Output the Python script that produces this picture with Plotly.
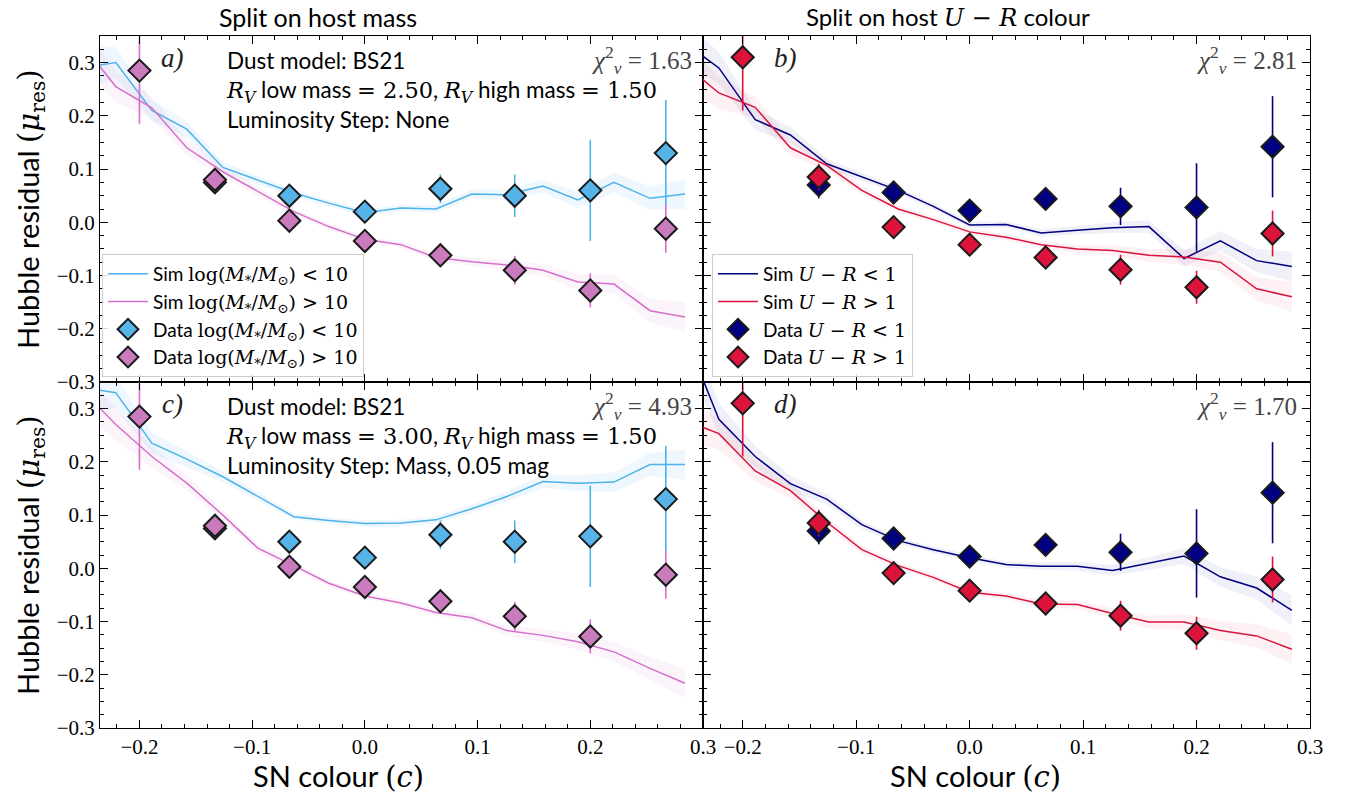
import plotly.graph_objects as go
from plotly.subplots import make_subplots

# ---------------- data ----------------
x_bins = [-0.2, -0.133, -0.067, 0.0, 0.067, 0.133, 0.2, 0.267]

mass_lo = [None, 0.075, 0.050, 0.020, 0.063, 0.050, 0.060, 0.130]
mass_lo_err = [None, 0.020, 0.010, 0.010, 0.027, 0.040, 0.095, 0.100]
mass_hi = [0.285, 0.080, 0.003, -0.035, -0.062, -0.090, -0.128, -0.012]
mass_hi_err = [0.100, 0.020, 0.010, 0.010, 0.010, 0.027, 0.032, 0.045]

ur_lo = [None, 0.070, 0.056, 0.022, 0.044, 0.030, 0.028, 0.142]
ur_lo_err = [None, 0.025, 0.010, 0.010, 0.015, 0.035, 0.083, 0.095]
ur_hi = [0.310, 0.085, -0.009, -0.042, -0.066, -0.089, -0.122, -0.021]
ur_hi_err = [0.100, 0.025, 0.010, 0.010, 0.010, 0.028, 0.031, 0.043]

x_sim = [-0.253, -0.221, -0.189, -0.158, -0.126, -0.095, -0.063, -0.032, 0.0,
         0.032, 0.063, 0.095, 0.126, 0.158, 0.189, 0.221, 0.253, 0.284]

sim_a_lo = [0.29, 0.300, 0.210, 0.175, 0.103, 0.080, 0.055, 0.036, 0.018,
            0.027, 0.025, 0.053, 0.052, 0.068, 0.042, 0.075, 0.045, 0.053]
sim_a_hi = [0.34, 0.255, 0.215, 0.140, 0.095, 0.058, 0.020, -0.008, -0.032,
            -0.042, -0.066, -0.074, -0.080, -0.090, -0.112, -0.116, -0.166, -0.178]
sim_b_lo = [0.34, 0.290, 0.193, 0.164, 0.110, 0.085, 0.060, 0.030, -0.005,
            -0.004, -0.020, -0.015, -0.010, -0.008, -0.068, -0.035, -0.072, -0.083]
sim_b_hi = [0.30, 0.243, 0.216, 0.140, 0.107, 0.060, 0.025, 0.005, -0.018,
            -0.028, -0.042, -0.050, -0.053, -0.062, -0.065, -0.075, -0.125, -0.140]
sim_c_lo = [0.34, 0.330, 0.235, 0.205, 0.172, 0.135, 0.097, 0.090, 0.084,
            0.085, 0.091, 0.112, 0.135, 0.163, 0.160, 0.162, 0.195, 0.195]
sim_c_hi = [0.34, 0.270, 0.210, 0.160, 0.100, 0.038, 0.005, -0.028, -0.052,
            -0.065, -0.083, -0.093, -0.117, -0.126, -0.138, -0.157, -0.188, -0.216]
sim_d_lo = [0.45, 0.280, 0.210, 0.159, 0.130, 0.082, 0.052, 0.035, 0.020,
            0.007, 0.004, 0.004, -0.004, 0.009, 0.023, -0.016, -0.037, -0.079]
sim_d_hi = [0.28, 0.253, 0.183, 0.146, 0.087, 0.035, 0.005, -0.017, -0.045,
            -0.052, -0.067, -0.068, -0.085, -0.101, -0.101, -0.117, -0.127, -0.152]
sim_band = [0.040, 0.030, 0.020, 0.015, 0.010, 0.008, 0.006, 0.006, 0.006,
            0.006, 0.007, 0.008, 0.010, 0.012, 0.015, 0.018, 0.022, 0.028]

chi2 = ["1.63", "2.81", "4.93", "1.70"]
panel_tags = ["a)", "b)", "c)", "d)"]
rv_low = ["2.50", "3.00"]
rv_high = ["1.50", "1.50"]
lum_step = ["None", "Mass, 0.05 mag"]

# ---------------- style ----------------
C_BLUE_L, C_BLUE_M, C_BLUE_B = "#4DB3EA", "#56B4E9", "rgba(86,180,233,0.10)"
C_PINK_L, C_PINK_M, C_PINK_B = "#D66FCB", "#C97BBE", "rgba(214,111,203,0.08)"
C_NAVY, C_NAVY_B = "#000080", "rgba(0,0,128,0.06)"
C_RED, C_RED_B = "#DC143C", "rgba(220,20,60,0.06)"
SERIF = "Liberation Serif"
MATH = "DejaVu Serif"
SANS = "Lato"

fig = make_subplots(rows=2, cols=2, horizontal_spacing=0, vertical_spacing=0)

def m(s, fam=SERIF):
    return f"<span style='font-family:{fam}'>{s}</span>"

LBL_MASS_LO = m("log(<i>M</i><sub>*</sub>/<i>M</i><sub>⊙</sub>) &lt; 10", MATH)
LBL_MASS_HI = m("log(<i>M</i><sub>*</sub>/<i>M</i><sub>⊙</sub>) &gt; 10", MATH)
LBL_UR_LO = m("<i>U</i> − <i>R</i> &lt; 1", MATH)
LBL_UR_HI = m("<i>U</i> − <i>R</i> &gt; 1", MATH)

def add_sim(row, col, y, lcolor, bcolor, name, legend, show, rank):
    lo = [v - w for v, w in zip(y, sim_band)]
    hi = [v + w for v, w in zip(y, sim_band)]
    fig.add_trace(go.Scatter(x=x_sim, y=lo, mode="lines", line=dict(width=0),
                             showlegend=False, hoverinfo="skip"), row=row, col=col)
    fig.add_trace(go.Scatter(x=x_sim, y=hi, mode="lines", line=dict(width=0),
                             fill="tonexty", fillcolor=bcolor,
                             showlegend=False, hoverinfo="skip"), row=row, col=col)
    fig.add_trace(go.Scatter(x=x_sim, y=y, mode="lines",
                             line=dict(color=lcolor, width=1.5),
                             name=name, legend=legend, showlegend=show,
                             legendrank=rank), row=row, col=col)

def add_data(row, col, y, err, mcolor, ecolor, name, legend, show, rank):
    fig.add_trace(go.Scatter(x=x_bins, y=y, mode="markers",
                             marker=dict(symbol="diamond", size=17, color=mcolor,
                                         line=dict(color="#1a1a1a", width=2)),
                             error_y=dict(type="data", array=err, color=ecolor,
                                          thickness=1.6, width=0),
                             name=name, legend=legend, showlegend=show,
                             legendrank=rank), row=row, col=col)

# mass panels
for r, (slo, shi) in zip([1, 2], [(sim_a_lo, sim_a_hi), (sim_c_lo, sim_c_hi)]):
    show = (r == 1)
    add_sim(r, 1, slo, C_BLUE_L, C_BLUE_B, "Sim " + LBL_MASS_LO, "legend", show, 1)
    add_sim(r, 1, shi, C_PINK_L, C_PINK_B, "Sim " + LBL_MASS_HI, "legend", show, 2)
    add_data(r, 1, mass_lo, mass_lo_err, C_BLUE_M, C_BLUE_L, "Data " + LBL_MASS_LO, "legend", show, 3)
    add_data(r, 1, mass_hi, mass_hi_err, C_PINK_M, C_PINK_L, "Data " + LBL_MASS_HI, "legend", show, 4)

# U-R panels
for r, (slo, shi) in zip([1, 2], [(sim_b_lo, sim_b_hi), (sim_d_lo, sim_d_hi)]):
    show = (r == 1)
    add_sim(r, 2, slo, C_NAVY, C_NAVY_B, "Sim " + LBL_UR_LO, "legend2", show, 1)
    add_sim(r, 2, shi, C_RED, C_RED_B, "Sim " + LBL_UR_HI, "legend2", show, 2)
    add_data(r, 2, ur_lo, ur_lo_err, C_NAVY, C_NAVY, "Data " + LBL_UR_LO, "legend2", show, 3)
    add_data(r, 2, ur_hi, ur_hi_err, C_RED, C_RED, "Data " + LBL_UR_HI, "legend2", show, 4)

xdom_l = [0, 603 / 1210]
xdom_r = [603 / 1210, 1]
axis_common = dict(ticks="inside", ticklen=8, tickwidth=1.1, tickcolor="black",
                   showline=True, linecolor="black", linewidth=1.1, mirror="allticks",
                   showgrid=False, zeroline=False, tickformat=".1f",
                   tickfont=dict(family=SERIF, size=21, color="black"))
for i in range(1, 5):
    xname = "xaxis" if i == 1 else f"xaxis{i}"
    yname = "yaxis" if i == 1 else f"yaxis{i}"
    left = i in (1, 3)
    bottom = i in (3, 4)
    fig.layout[xname].update(range=[-0.235, 0.3], dtick=0.1, tick0=0,
                             domain=xdom_l if left else xdom_r,
                             minor=dict(dtick=0.02, ticks="inside", ticklen=4,
                                        tickwidth=1, tickcolor="black"),
                             showticklabels=bottom, **axis_common)
    fig.layout[yname].update(range=[-0.3, 0.35], dtick=0.1, tick0=0,
                             minor=dict(dtick=0.025, ticks="inside", ticklen=4,
                                        tickwidth=1, tickcolor="black"),
                             showticklabels=left, **axis_common)

def px(xp):
    return (xp - 100) / 1210

def py(yp):
    return (728 - yp) / 692

ann = []
# column titles
ann.append(dict(x=px(318), y=py(17), text="Split on host mass",
                font=dict(family=SANS, size=25, color="black")))
ann.append(dict(x=px(948), y=py(17),
                text="Split on host " + m("<i>U</i> − <i>R</i>", MATH) + " colour",
                font=dict(family=SANS, size=24, color="black")))
# axis titles
for yc in (209, 555):
    ann.append(dict(x=px(30), y=py(yc), textangle=-90,
                    text="Hubble residual " + m("(<i>μ</i><sub>res</sub>)", MATH),
                    font=dict(family=SANS, size=29, color="black")))
for xc in (338, 975):
    ann.append(dict(x=px(xc), y=py(776), text="SN colour " + m("(<i>c</i>)", MATH),
                    font=dict(family=SANS, size=29, color="black")))
# panel tags and chi2
tag_pos = [(172, 58), (785, 58), (172, 404), (785, 404)]
chi_pos = [(694, 60), (1299, 60), (694, 406), (1299, 406)]
for k in range(4):
    ann.append(dict(x=px(tag_pos[k][0]), y=py(tag_pos[k][1]),
                    text=f"<i>{panel_tags[k]}</i>",
                    font=dict(family=SERIF, size=27, color="#222")))
    ann.append(dict(x=px(chi_pos[k][0]), y=py(chi_pos[k][1]), xanchor="right",
                    text=f"<i>χ</i><sup>2</sup><sub><i>ν</i></sub> = {chi2[k]}",
                    font=dict(family=SERIF, size=25, color="#444")))
# dust model text
for k, ytop in enumerate((45, 391)):
    txt = ("Dust model: BS21<br>"
           + m("<i>R</i><sub><i>V</i></sub>", MATH) + " low mass " + m("= " + rv_low[k], MATH) + ", "
           + m("<i>R</i><sub><i>V</i></sub>", MATH) + " high mass " + m("= " + rv_high[k], MATH) + "<br>"
           + "Luminosity Step: " + lum_step[k])
    ann.append(dict(x=px(224), y=py(ytop), xanchor="left", yanchor="top", align="left",
                    text=txt, font=dict(family=SANS, size=22.5, color="black")))

for a in ann:
    a.setdefault("xref", "paper")
    a.setdefault("yref", "paper")
    a.setdefault("showarrow", False)
    a.setdefault("xanchor", "center")
    a.setdefault("yanchor", "middle")

legend_common = dict(bgcolor="rgba(255,255,255,0.85)", bordercolor="#cccccc",
                     borderwidth=1, font=dict(family=SANS, size=19, color="black"),
                     yanchor="bottom", xanchor="left", tracegroupgap=0,
                     itemwidth=40, traceorder="normal")
fig.update_layout(
    width=1351, height=800,
    margin=dict(l=100, r=41, t=36, b=72),
    paper_bgcolor="white", plot_bgcolor="white",
    annotations=ann,
    legend=dict(x=px(102), y=py(377), **legend_common),
    legend2=dict(x=px(712), y=py(377), **legend_common),
)

fig.write_html("out.html")
